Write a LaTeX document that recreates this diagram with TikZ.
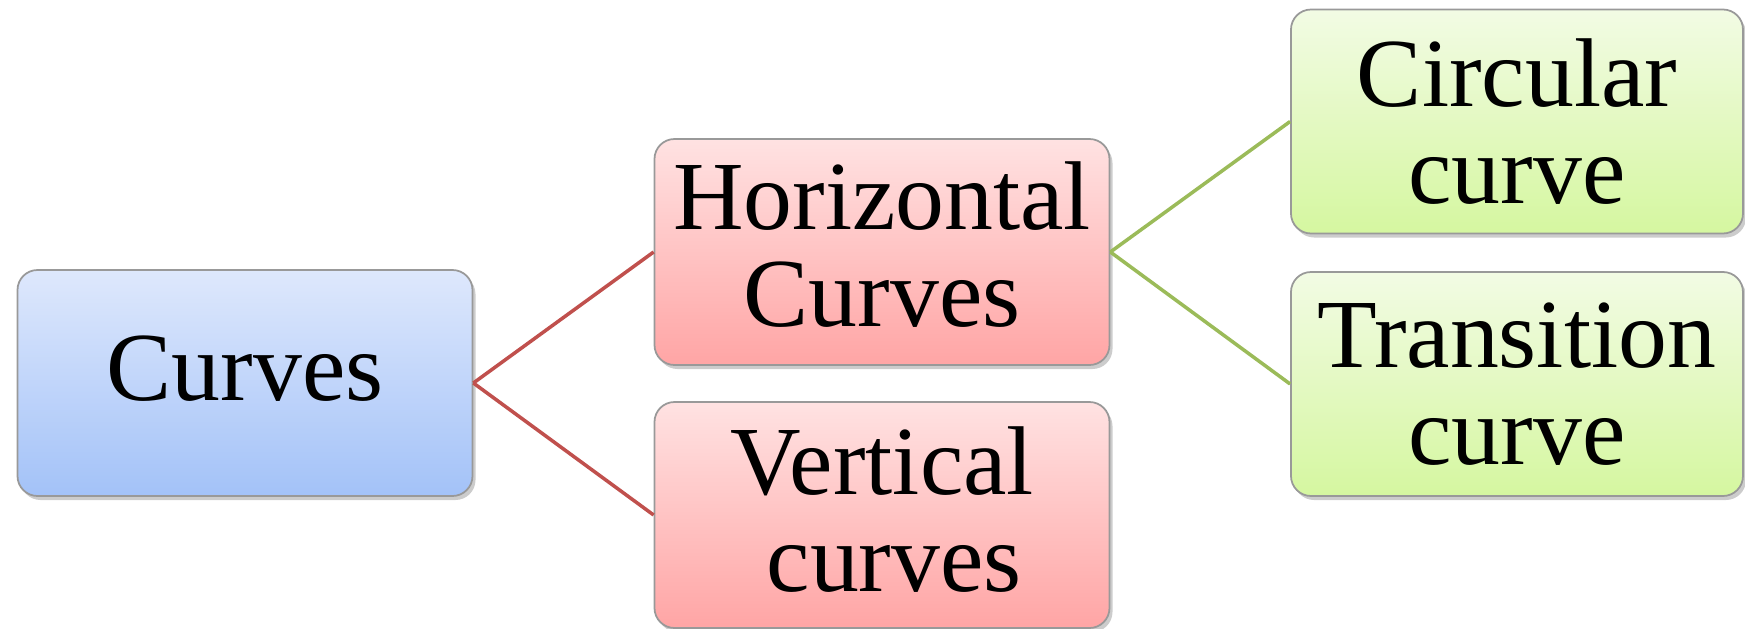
\documentclass[tikz,border=0pt]{standalone}
\usepackage{fontspec}
\setmainfont{Liberation Serif}
\usepackage{tikz}
\usetikzlibrary{positioning,shadows}

\definecolor{blueTop}{HTML}{DEE8FC}
\definecolor{blueBot}{HTML}{A3C2F8}
\definecolor{redTop}{HTML}{FFE2E2}
\definecolor{redBot}{HTML}{FFA5A5}
\definecolor{greenTop}{HTML}{F2FBE4}
\definecolor{greenBot}{HTML}{D5F7A0}
\definecolor{redLine}{HTML}{C0504D}
\definecolor{greenLine}{HTML}{9BBB59}

\begin{document}
\begin{tikzpicture}[
  cbox/.style={draw=gray!80, line width=0.5pt, rounded corners=0.2cm,
    minimum width=4.55cm, minimum height=2.26cm, align=center,
    inner sep=0pt, font=\fontsize{27.8}{27.5}\selectfont,
    drop shadow={opacity=0.4, shadow xshift=0.03cm, shadow yshift=-0.04cm}},
  bluebox/.style={cbox, top color=blueTop, bottom color=blueBot},
  redbox/.style={cbox, top color=redTop, bottom color=redBot},
  greenbox/.style={cbox, top color=greenTop, bottom color=greenBot, minimum width=4.52cm, minimum height=2.24cm},
  redlink/.style={draw=redLine, line width=1pt},
  greenlink/.style={draw=greenLine, line width=1pt},
]
\useasboundingbox (0,0) rectangle (17.45,6.28);
% root
\node[bluebox, text depth=0.3cm] (curves) at (2.45,2.45) {Curves};
% level two
\node[redbox, text depth=0.16cm] (horiz) at (8.82,3.76) {Horizontal\\Curves};
\node[redbox, text depth=0.12cm] (vert) at (8.82,1.13) {Vertical\\ \ curves};
% level three
\node[greenbox] (circ) at (15.17,5.065) {Circular\\curve};
\node[greenbox] (trans) at (15.17,2.44) {Transition\\curve};
% links
\draw[redlink] (curves.east) -- (horiz.west);
\draw[redlink] (curves.east) -- (vert.west);
\draw[greenlink] (horiz.east) -- (circ.west);
\draw[greenlink] (horiz.east) -- (trans.west);
\end{tikzpicture}
\end{document}
